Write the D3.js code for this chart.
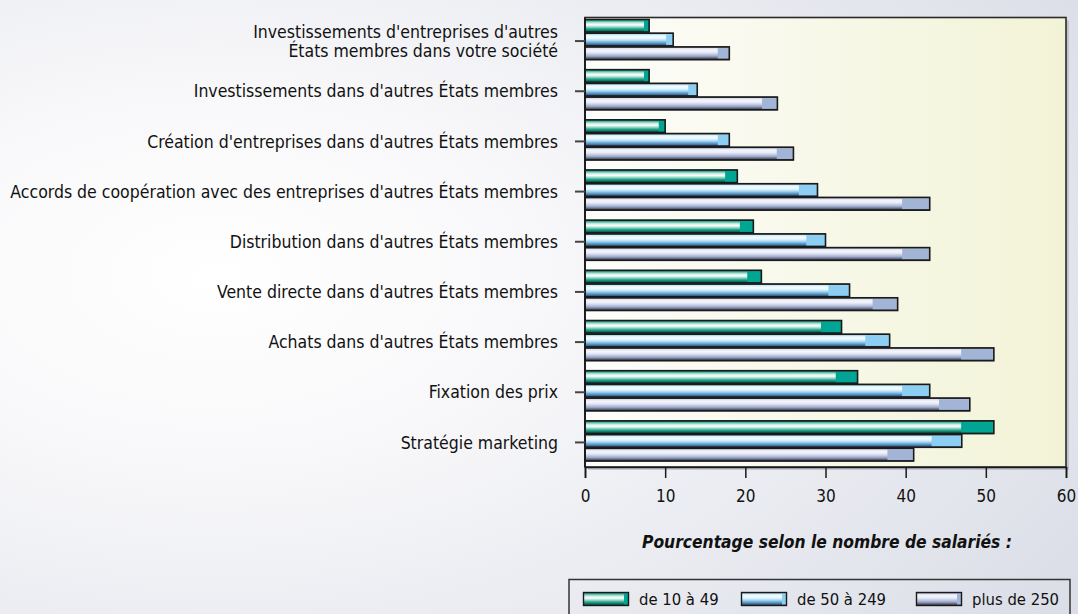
<!DOCTYPE html>
<html>
<head>
<meta charset="utf-8">
<script src="https://cdn.jsdelivr.net/npm/d3@7"></script>
<style>
  html, body { margin: 0; padding: 0; background: #fff; }
  svg { display: block; font-family: "DejaVu Sans Condensed", "DejaVu Sans", sans-serif; }
</style>
</head>
<body>
<svg id="canvas" width="1078" height="614"></svg>
<script>
// chart values
const categories = [
  "Investissements d'entreprises d'autres|États membres dans votre société",
  "Investissements dans d'autres États membres",
  "Création d'entreprises dans d'autres États membres",
  "Accords de coopération avec des entreprises d'autres États membres",
  "Distribution dans d'autres États membres",
  "Vente directe dans d'autres États membres",
  "Achats dans d'autres États membres",
  "Fixation des prix",
  "Stratégie marketing"
];
const seriesNames = ["de 10 à 49", "de 50 à 249", "plus de 250"];
const small = [8, 8, 10, 19, 21, 22, 32, 34, 51];
const medium = [11, 14, 18, 29, 30, 33, 38, 43, 47];
const large = [18, 24, 26, 43, 43, 39, 51, 48, 41];
const xTicks = [0, 10, 20, 30, 40, 50, 60];
const axisTitle = "Pourcentage selon le nombre de salariés :";

const seriesValues = [small, medium, large];

let svg = d3.select("#canvas");
const W = 1078, H = 614;
const plot = { left: 585, right: 1066, top: 17.5, bottom: 467 };

// stripe colours of each series (top to bottom) and the solid end cap
const stripes = [
  ["#0c5e52", "#3db39f", "#c5eadf", "#ffffff", "#9edccb", "#2aa88f", "#0a6e5e", "#062e28"],
  ["#3a4a58", "#cdeefa", "#f4fcff", "#e4f6fd", "#a9daf3", "#6aa8d8", "#3d6d96", "#2a3440"],
  ["#3a3c48", "#dfe3f3", "#f4f5fc", "#e8ebf7", "#c4cce4", "#9aa8c8", "#5a6078", "#2c2e38"]
];
const caps = ["#00a594", "#8dcff2", "#a3b5d6"];

let defs = svg.append("defs");

// page background
let bg = defs.append("radialGradient").attr("id", "bg")
  .attr("cx", "0.2").attr("cy", "0.45").attr("r", "1.0");
bg.append("stop").attr("offset", "0").attr("stop-color", "#ffffff");
bg.append("stop").attr("offset", "0.3").attr("stop-color", "#f8f8fa");
bg.append("stop").attr("offset", "1").attr("stop-color", "#d9dce6");

let plotBg = defs.append("linearGradient").attr("id", "plotbg")
  .attr("x1", 0).attr("x2", 1).attr("y1", 0).attr("y2", 0);
plotBg.append("stop").attr("offset", "0").attr("stop-color", "#fdfdfb");
plotBg.append("stop").attr("offset", "1").attr("stop-color", "#f2f3d6");

stripes.forEach((cols, i) => {
  let g = defs.append("linearGradient").attr("id", "bar" + i)
    .attr("x1", 0).attr("x2", 0).attr("y1", 0).attr("y2", 1);
  cols.forEach((c, j) => {
    g.append("stop").attr("offset", j / (cols.length - 1)).attr("stop-color", c);
  });
});

svg.append("rect").attr("width", W).attr("height", H).attr("fill", "url(#bg)");

// scales
const x = d3.scaleLinear().domain([0, 60]).range([plot.left, plot.right]);
const y = d3.scaleBand().domain(d3.range(categories.length))
  .range([19, 461.5]).paddingInner(0.18).paddingOuter(0);
const ySub = d3.scaleBand().domain(d3.range(seriesNames.length))
  .range([0, y.bandwidth()]).padding(0);

// plot area with a soft shadow
svg.append("rect")
  .attr("x", plot.left + 3).attr("y", plot.top + 3)
  .attr("width", plot.right - plot.left).attr("height", plot.bottom - plot.top)
  .attr("fill", "#a8aab4").attr("opacity", 0.55);
svg.append("rect")
  .attr("x", plot.left).attr("y", plot.top)
  .attr("width", plot.right - plot.left).attr("height", plot.bottom - plot.top)
  .attr("fill", "url(#plotbg)").attr("stroke", "#2a2a2a").attr("stroke-width", 1.6);

// bars
let rows = [];
categories.forEach((c, i) => {
  seriesValues.forEach((vals, s) => rows.push({ cat: i, s: s, v: vals[i] }));
});

let bars = svg.append("g").selectAll("g.bar").data(rows).enter()
  .append("g").attr("class", "bar");

bars.append("rect")
  .attr("x", x(0))
  .attr("y", d => y(d.cat) + ySub(d.s))
  .attr("width", d => x(d.v) - x(0))
  .attr("height", ySub.bandwidth())
  .attr("fill", d => "url(#bar" + d.s + ")");

bars.append("rect")
  .attr("x", d => x(d.v * 0.92))
  .attr("y", d => y(d.cat) + ySub(d.s) + 1.5)
  .attr("width", d => x(d.v) - x(d.v * 0.92))
  .attr("height", ySub.bandwidth() - 3)
  .attr("fill", d => caps[d.s]);

bars.append("rect")
  .attr("x", x(0))
  .attr("y", d => y(d.cat) + ySub(d.s) + 0.5)
  .attr("width", d => x(d.v) - x(0))
  .attr("height", ySub.bandwidth() - 1)
  .attr("fill", "none")
  .attr("stroke", "#1a1a1a")
  .attr("stroke-width", 1.6);

// x axis
let xAxis = svg.append("g")
  .attr("transform", "translate(0," + plot.bottom + ")")
  .call(d3.axisBottom(x).tickValues(xTicks).tickSize(11).tickPadding(12));
xAxis.select(".domain").attr("stroke", "#1a1a1a").attr("stroke-width", 1.6);
xAxis.selectAll(".tick line").attr("stroke", "#1a1a1a").attr("stroke-width", 1.5);
xAxis.selectAll(".tick text")
  .attr("font-family", "DejaVu Sans Condensed, DejaVu Sans, sans-serif")
  .attr("font-size", 17).attr("fill", "#111");

// y axis
let yAxis = svg.append("g")
  .attr("transform", "translate(" + plot.left + ",0)")
  .call(d3.axisLeft(y).tickSize(10).tickFormat(""));
yAxis.select(".domain").attr("stroke", "#1a1a1a").attr("stroke-width", 1.8)
  .attr("d", "M0," + plot.top + "V" + plot.bottom);
yAxis.selectAll(".tick line").attr("stroke", "#444").attr("stroke-width", 2)
  .attr("transform", "translate(0,1.5)");

// category labels, first one on two lines
let labels = svg.append("g").selectAll("text").data(categories).enter()
  .append("text")
  .attr("x", 558)
  .attr("text-anchor", "end")
  .attr("font-size", 17.5)
  .attr("fill", "#111");
labels.each(function (d, i) {
  let parts = d.split("|");
  let cy = y(i) + y.bandwidth() / 2 + 1.5;
  let t = d3.select(this);
  parts.forEach((p, k) => {
    t.append("tspan")
      .attr("x", 558)
      .attr("y", cy + (k - (parts.length - 1) / 2) * 19)
      .attr("dy", "0.35em")
      .text(p);
  });
});

// axis title
svg.append("text")
  .attr("x", 827).attr("y", 548)
  .attr("text-anchor", "middle")
  .attr("font-size", 17.3)
  .attr("font-weight", "bold")
  .attr("font-style", "italic")
  .attr("fill", "#111")
  .text(axisTitle);

// legend
svg.append("rect")
  .attr("x", 569).attr("y", 579.5).attr("width", 501).attr("height", 50)
  .attr("fill", "none").attr("stroke", "#333").attr("stroke-width", 1.5);

const legendX = [583, 741, 916];
let leg = svg.append("g").selectAll("g").data(seriesNames).enter()
  .append("g").attr("transform", (d, i) => "translate(" + legendX[i] + ",592)");
leg.append("rect").attr("width", 46).attr("height", 14)
  .attr("fill", (d, i) => "url(#bar" + i + ")");
leg.append("rect").attr("x", 41).attr("y", 1.5).attr("width", 5).attr("height", 11)
  .attr("fill", (d, i) => caps[i]);
leg.append("rect").attr("x", 0.5).attr("y", 0.5).attr("width", 45).attr("height", 13)
  .attr("fill", "none").attr("stroke", "#1a1a1a").attr("stroke-width", 1.4);
leg.append("text").attr("x", 56).attr("y", 7).attr("dy", "0.35em")
  .attr("font-size", 16.5).attr("fill", "#111").text(d => d);
</script>
</body>
</html>
